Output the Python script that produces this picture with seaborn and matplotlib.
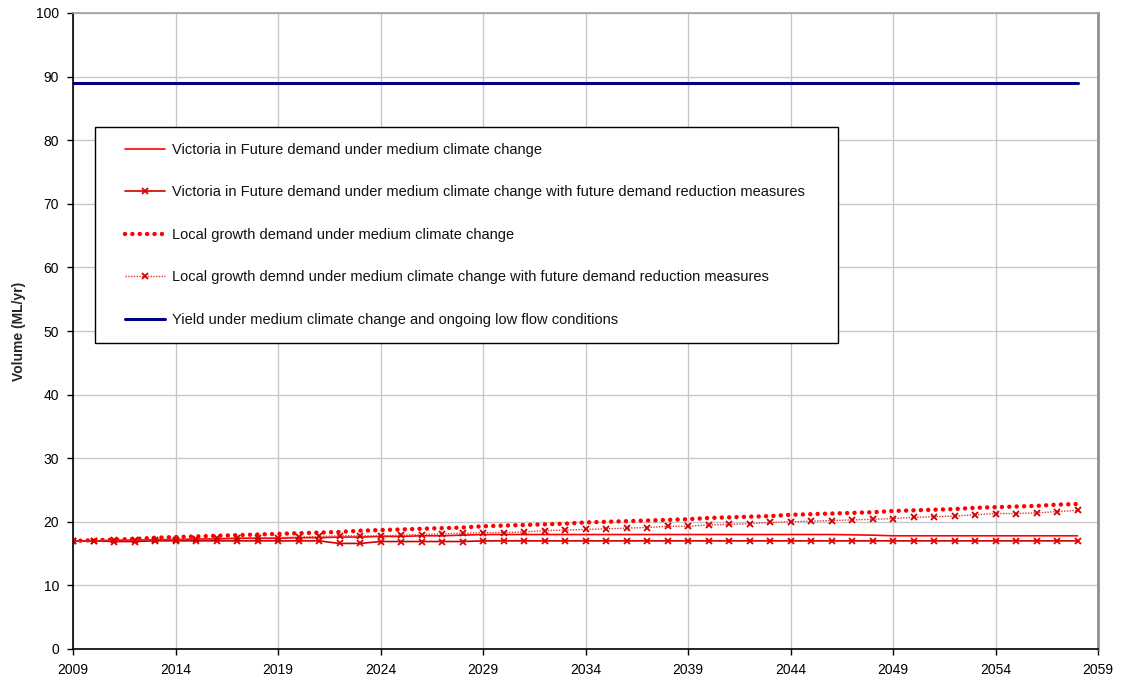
import numpy as np
import pandas as pd
import matplotlib
matplotlib.use("Agg")
import matplotlib.pyplot as plt
from matplotlib.legend_handler import HandlerLine2D
import seaborn as sns

years = list(range(2009, 2059))

vif_demand = [17.0, 17.0, 17.1, 17.1, 17.2, 17.2, 17.3, 17.3, 17.4, 17.4,
              17.4, 17.5, 17.5, 17.6, 17.6, 17.7, 17.7, 17.8, 17.8, 17.9,
              18.0, 18.0, 18.0, 18.0, 18.0, 18.0, 18.0, 18.0, 18.0, 18.0,
              18.0, 18.0, 18.0, 18.0, 18.0, 18.0, 18.0, 18.0, 17.95, 17.9,
              17.8, 17.8, 17.8, 17.8, 17.8, 17.8, 17.8, 17.8, 17.8, 17.8]

vif_reduced = [17.0, 17.0, 16.9, 16.9, 17.0, 17.0, 17.0, 17.0, 17.0, 17.0,
               17.0, 17.0, 17.0, 16.6, 16.6, 16.9, 16.9, 16.9, 16.9, 16.9,
               17.0, 17.0, 17.0, 17.0, 17.0, 17.0, 17.0, 17.0, 17.0, 17.0,
               17.0, 17.0, 17.0, 17.0, 17.0, 17.0, 17.0, 17.0, 17.0, 17.0,
               17.0, 17.0, 17.0, 17.0, 17.0, 17.0, 17.0, 17.0, 17.0, 17.0]

local_demand = [17.0, 17.1, 17.2, 17.3, 17.5, 17.6, 17.7, 17.8, 17.9, 18.0,
                18.1, 18.2, 18.3, 18.4, 18.6, 18.7, 18.8, 18.9, 19.0, 19.1,
                19.3, 19.4, 19.5, 19.6, 19.7, 19.9, 20.0, 20.1, 20.2, 20.3,
                20.4, 20.6, 20.7, 20.8, 20.9, 21.1, 21.2, 21.3, 21.4, 21.5,
                21.7, 21.8, 21.9, 22.0, 22.2, 22.3, 22.4, 22.5, 22.7, 22.8]

local_reduced = [17.0, 17.0, 17.1, 17.1, 17.2, 17.2, 17.3, 17.4, 17.5, 17.5,
                 17.5, 17.6, 17.7, 17.8, 17.8, 17.8, 17.9, 18.0, 18.1, 18.2,
                 18.3, 18.3, 18.4, 18.6, 18.7, 18.8, 18.9, 19.0, 19.1, 19.3,
                 19.3, 19.5, 19.6, 19.7, 19.9, 20.0, 20.1, 20.2, 20.3, 20.4,
                 20.5, 20.7, 20.8, 20.9, 21.1, 21.3, 21.3, 21.4, 21.6, 21.8]

yield_vals = [89.0] * 50

labels = [
    "Victoria in Future demand under medium climate change",
    "Victoria in Future demand under medium climate change with future demand reduction measures",
    "Local growth demand under medium climate change",
    "Local growth demnd under medium climate change with future demand reduction measures",
    "Yield under medium climate change and ongoing low flow conditions",
]

x_ticks = list(range(2009, 2060, 5))
y_ticks = list(range(0, 101, 10))

sns.set_theme(style="white")
plt.rcParams['font.family'] = ['Liberation Sans', 'DejaVu Sans']

fig = plt.figure(figsize=(11.26, 6.83), dpi=100)
ax = fig.add_axes([73 / 1126, 1 - 649 / 683, (1098 - 73) / 1126, (649 - 13) / 683])

sns.lineplot(x=years, y=vif_demand, ax=ax, color="#FF0000", linewidth=1.2,
             label=labels[0])
sns.lineplot(x=years, y=vif_reduced, ax=ax, color="#D00000", linewidth=1.2,
             marker="x", markersize=4.5, markeredgewidth=1.3,
             markeredgecolor="#E00000", label=labels[1])
sns.lineplot(x=years, y=local_demand, ax=ax, color="#FF0000", linewidth=3.2,
             linestyle=(0, (0.01, 1.65)), dash_capstyle="round", label=labels[2])
sns.lineplot(x=years, y=local_reduced, ax=ax, color="#E83030", linewidth=1.0,
             linestyle=(0, (1, 1)), marker="x", markersize=4.5, markeredgewidth=1.3,
             markeredgecolor="#D00000", label=labels[3])
sns.lineplot(x=years, y=yield_vals, ax=ax, color="#000080", linewidth=2.2,
             label=labels[4])

ax.set_xlim(2009, 2059)
ax.set_ylim(0, 100)
ax.set_xticks(x_ticks)
ax.set_yticks(y_ticks)
ax.set_xticklabels([str(t) for t in x_ticks], fontsize=10)
ax.set_yticklabels([str(t) for t in y_ticks], fontsize=10)
ax.grid(True, color="#C8C8C8", linewidth=1.0)
ax.set_axisbelow(True)
ax.tick_params(axis="both", direction="out", length=4, width=1, color="black",
               bottom=True, left=True, pad=6, labelcolor="black")

for side in ["left", "bottom"]:
    ax.spines[side].set_color("black")
    ax.spines[side].set_linewidth(1.2)
ax.spines["top"].set_color("#A0A0A0")
ax.spines["top"].set_linewidth(1.2)
ax.spines["right"].set_color("#909090")
ax.spines["right"].set_linewidth(2)

ax.set_xlabel("")
ax.set_ylabel("Volume (ML/yr)", fontsize=10, fontweight="bold", labelpad=7)


class PadHandler(HandlerLine2D):
    def __init__(self, pad, **kw):
        super().__init__(**kw)
        self.pad = pad

    def create_artists(self, legend, orig_handle, xdescent, ydescent, width,
                       height, fontsize, trans):
        return super().create_artists(legend, orig_handle, xdescent - self.pad,
                                      ydescent, width - self.pad, height,
                                      fontsize, trans)


handles, hlabels = ax.get_legend_handles_labels()
fs = 10.5
leg = ax.legend(handles, hlabels, loc="upper left",
                bbox_to_anchor=((95 - 73) / 1025, (649 - 127) / 636, (838 - 95) / 1025, 0),
                mode="expand", borderaxespad=0, fontsize=fs, frameon=True,
                fancybox=False, edgecolor="black", framealpha=1,
                labelspacing=1.95, borderpad=1.1, handlelength=3.7,
                handletextpad=0.48,
                handler_map={h: PadHandler(10.0) for h in handles})
leg.get_frame().set_linewidth(1.0)
for t in leg.get_texts():
    t.set_color("#111111")

fig.savefig("out.png", dpi=100)
